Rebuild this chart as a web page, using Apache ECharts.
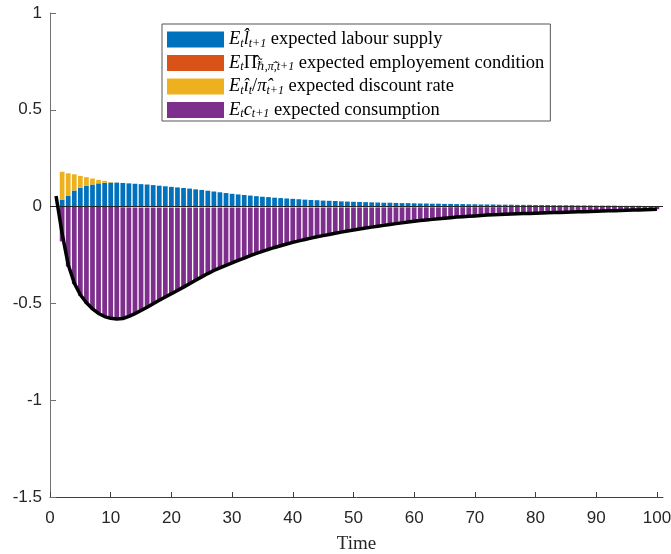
<!DOCTYPE html>
<html><head><meta charset="utf-8">
<script src="https://cdn.jsdelivr.net/npm/echarts@6/dist/echarts.min.js"></script>
<style>html,body{margin:0;padding:0;background:#fff}#c{width:671px;height:554px}</style>
</head><body><div id="c"></div>
<script>
// x positions: 0 .. 101 (axis range); data lives at t = 1..100
const xCategories = [];
for (let t = 0; t <= 101; t++) xCategories.push(String(t));

const xTickStep = 10;
const yTicks = [-1.5, -1, -0.5, 0, 0.5, 1];

const labour = [null, 0.036, 0.055, 0.083, 0.098, 0.107, 0.114, 0.120, 0.123, 0.124,
  0.124, 0.122, 0.120, 0.118, 0.116, 0.114, 0.111, 0.108, 0.105, 0.102,
  0.099, 0.096, 0.093, 0.089, 0.086, 0.082, 0.078, 0.074, 0.070, 0.066,
  0.063, 0.060, 0.057, 0.054, 0.051, 0.049, 0.046, 0.044, 0.042, 0.040,
  0.038, 0.036, 0.034, 0.033, 0.031, 0.030, 0.029, 0.027, 0.026, 0.025,
  0.024, 0.023, 0.022, 0.021, 0.020, 0.020, 0.019, 0.018, 0.018, 0.017,
  0.016, 0.016, 0.015, 0.015, 0.014, 0.014, 0.013, 0.013, 0.012, 0.012,
  0.011, 0.011, 0.011, 0.010, 0.010, 0.010, 0.009, 0.009, 0.009, 0.008,
  0.008, 0.008, 0.007, 0.007, 0.007, 0.007, 0.006, 0.006, 0.006, 0.005,
  0.005, 0.005, 0.005, 0.004, 0.004, 0.004, 0.004, 0.003, 0.003, 0.003];

const employment = [null, 0, 0, 0, 0, 0, 0, 0, 0, 0,
  0, 0, 0, 0, 0, 0, 0, 0, 0, 0,
  0, 0, 0, 0, 0, 0, 0, 0, 0, 0,
  0, 0, 0, 0, 0, 0, 0, 0, 0, 0,
  0, 0, 0, 0, 0, 0, 0, 0, 0, 0,
  0, 0, 0, 0, 0, 0, 0, 0, 0, 0,
  0, 0, 0, 0, 0, 0, 0, 0, 0, 0,
  0, 0, 0, 0, 0, 0, 0, 0, 0, 0,
  0, 0, 0, 0, 0, 0, 0, 0, 0, 0,
  0, 0, 0, 0, 0, 0, 0, 0, 0, 0];

const discount = [null, 0.144, 0.117, 0.084, 0.060, 0.045, 0.031, 0.018, 0.010, 0.003,
  -0.002, -0.004, -0.005, -0.006, -0.007, -0.007, -0.007, -0.007, -0.007, -0.007,
  -0.007, -0.007, -0.007, -0.007, -0.007, -0.007, -0.007, -0.007, -0.007, -0.007,
  -0.007, -0.007, -0.007, -0.007, -0.007, -0.007, -0.006, -0.006, -0.006, -0.006,
  -0.006, -0.006, -0.006, -0.006, -0.006, -0.005, -0.005, -0.005, -0.005, -0.005,
  -0.005, -0.005, -0.005, -0.005, -0.005, -0.004, -0.004, -0.004, -0.004, -0.004,
  -0.004, -0.004, -0.004, -0.004, -0.004, -0.003, -0.003, -0.003, -0.003, -0.003,
  -0.003, -0.003, -0.003, -0.003, -0.003, -0.002, -0.002, -0.002, -0.002, -0.002,
  -0.002, -0.002, -0.002, -0.002, -0.002, -0.001, -0.001, -0.001, -0.001, -0.001,
  -0.001, -0.001, -0.001, -0.001, -0.001, -0.001, -0.001, -0.001, -0.001, -0.001];

const consumptionExp = [null, -0.180, -0.310, -0.400, -0.460, -0.500, -0.530, -0.555, -0.570, -0.578,
  -0.579, -0.574, -0.562, -0.547, -0.530, -0.513, -0.495, -0.477, -0.460, -0.443,
  -0.426, -0.409, -0.391, -0.373, -0.356, -0.339, -0.323, -0.309, -0.296, -0.284,
  -0.271, -0.259, -0.246, -0.235, -0.224, -0.214, -0.205, -0.196, -0.187, -0.179,
  -0.171, -0.164, -0.157, -0.150, -0.144, -0.139, -0.133, -0.127, -0.121, -0.116,
  -0.111, -0.106, -0.101, -0.096, -0.092, -0.088, -0.084, -0.080, -0.076, -0.072,
  -0.068, -0.065, -0.062, -0.059, -0.056, -0.054, -0.051, -0.049, -0.047, -0.045,
  -0.043, -0.041, -0.039, -0.038, -0.036, -0.036, -0.035, -0.034, -0.033, -0.032,
  -0.031, -0.030, -0.029, -0.028, -0.027, -0.027, -0.026, -0.025, -0.024, -0.023,
  -0.022, -0.021, -0.020, -0.019, -0.018, -0.017, -0.016, -0.015, -0.014, -0.013];

const consumption = [0.055, -0.140, -0.300, -0.395, -0.455, -0.497, -0.528, -0.552, -0.568, -0.577,
  -0.581, -0.578, -0.567, -0.553, -0.537, -0.520, -0.502, -0.484, -0.467, -0.450,
  -0.433, -0.416, -0.398, -0.380, -0.363, -0.346, -0.330, -0.316, -0.303, -0.291,
  -0.278, -0.266, -0.253, -0.242, -0.231, -0.221, -0.211, -0.202, -0.193, -0.185,
  -0.177, -0.170, -0.163, -0.156, -0.150, -0.144, -0.138, -0.132, -0.126, -0.121,
  -0.116, -0.111, -0.106, -0.101, -0.097, -0.092, -0.088, -0.084, -0.080, -0.076,
  -0.072, -0.069, -0.066, -0.063, -0.060, -0.057, -0.054, -0.052, -0.050, -0.048,
  -0.046, -0.044, -0.042, -0.041, -0.039, -0.038, -0.037, -0.036, -0.035, -0.034,
  -0.033, -0.032, -0.031, -0.030, -0.029, -0.028, -0.027, -0.026, -0.025, -0.024,
  -0.023, -0.022, -0.021, -0.020, -0.019, -0.018, -0.017, -0.016, -0.015, -0.014];

const seriesNames = ['labour', 'employment', 'discount', 'consumptionExp'];
const seriesColors = ['#0072BD', '#D95319', '#EDB120', '#7E2F8E'];

const serif = '"Liberation Serif", "DejaVu Serif", serif';
const legendText = {
  labour: '{m|E}{s|t}{m|l\u0302}{s|t+1}{r| expected labour supply}',
  employment: '{m|E}{s|t}{g|\u03A0\u0302}{s|\u210F\u0303,\u03C0\u0303\u0304,t+1}{r| expected employement condition}',
  discount: '{m|E}{s|t}{m|\u00EE}{s|t}{r|/}{m|\u03C0\u0302}{s|t+1}{r| expected discount rate}',
  consumptionExp: '{m|E}{s|t}{m|c}{s|t+1}{r| expected consumption}'
};

// values for t = 1..100 placed at categories 1..100 (category 0 and 101 empty)
const onAxis = (arr) => [null].concat(arr, [null]);

const barData = [labour, employment, discount, consumptionExp];
const series = barData.map((arr, k) => ({
  name: seriesNames[k],
  type: 'bar',
  stack: 'total',
  barWidth: '78%',
  itemStyle: { color: seriesColors[k] },
  data: onAxis(arr),
  markLine: k === 0 ? {
    silent: true, symbol: ['none', 'none'], label: { show: false },
    lineStyle: { color: '#262626', width: 1, type: 'solid' },
    data: [{ yAxis: 0 }]
  } : undefined
}));
series.push({
  name: 'c',
  type: 'line',
  symbol: 'none',
  z: 10,
  lineStyle: { color: '#000', width: 3.5 },
  data: onAxis(consumption)
});

const chart = echarts.init(document.getElementById('c'));
chart.setOption({
  animation: false,
  grid: { left: 50, right: 8, top: 13, bottom: 57, outerBoundsMode: 'none', containLabel: false },
  legend: {
    data: seriesNames,
    orient: 'vertical',
    left: 162, top: 24,
    itemWidth: 57, itemHeight: 16, itemGap: 4,
    padding: [6, 6, 1, 5],
    icon: 'rect',
    selectedMode: false,
    backgroundColor: '#fff',
    borderColor: '#555',
    borderWidth: 1,
    formatter: (name) => legendText[name],
    textStyle: {
      color: '#000',
      rich: {
        m: { fontFamily: serif, fontStyle: 'italic', fontSize: 18.5, lineHeight: 20, color: '#000' },
        g: { fontFamily: serif, fontSize: 18.5, lineHeight: 20, color: '#000' },
        r: { fontFamily: serif, fontSize: 18.5, lineHeight: 20, color: '#000' },
        s: { fontFamily: serif, fontStyle: 'italic', fontSize: 12, lineHeight: 8, verticalAlign: 'bottom', color: '#000' }
      }
    }
  },
  xAxis: {
    type: 'category', data: xCategories, boundaryGap: false,
    name: 'Time', nameLocation: 'middle', nameGap: 38,
    nameTextStyle: { fontFamily: serif, fontSize: 19, color: '#262626' },
    axisLine: { onZero: false, lineStyle: { color: '#404040', width: 1 } },
    axisTick: { inside: true, length: 5, interval: xTickStep - 1, lineStyle: { color: '#404040' } },
    axisLabel: { interval: xTickStep - 1, margin: 13, fontFamily: '"Liberation Sans", Arial, sans-serif', fontSize: 17, color: '#262626' },
    splitLine: { show: false }
  },
  yAxis: {
    type: 'value', min: -1.5, max: 1, interval: 0.5,
    axisLine: { show: true, onZero: false, lineStyle: { color: '#707070', width: 1 } },
    axisTick: { show: true, inside: true, length: 6, customValues: yTicks, lineStyle: { color: '#707070' } },
    axisLabel: { customValues: yTicks, margin: 8, fontFamily: '"Liberation Sans", Arial, sans-serif', fontSize: 17, color: '#262626' },
    splitLine: { show: false }
  },
  series: series
});
</script>
</body></html>
